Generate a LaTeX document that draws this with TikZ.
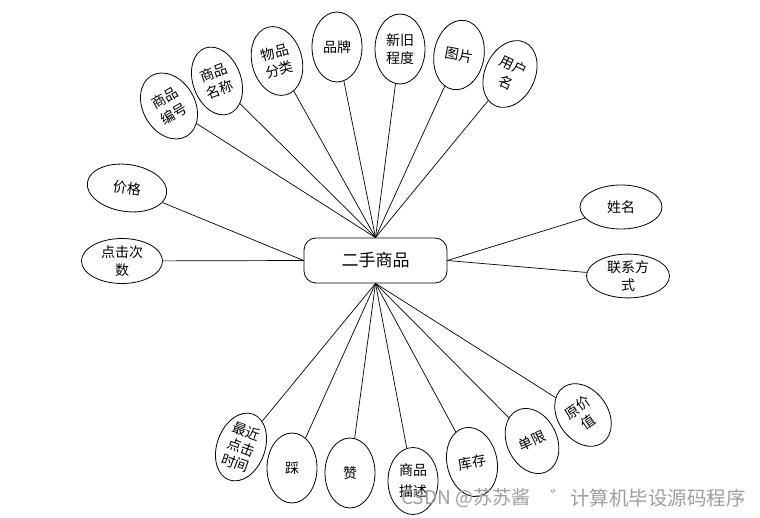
\documentclass[tikz,border=0pt]{standalone}
\usepackage{fontspec}
\newfontfamily\cjk{Noto Sans CJK SC}
\usetikzlibrary{shapes.geometric}
\begin{document}
\begin{tikzpicture}[x=1pt,y=-1pt,
  attr/.style={ellipse,draw,line width=0.8pt,inner sep=0pt,minimum width=50pt,minimum height=70pt,
    align=center,font=\cjk\fontsize{14}{18}\selectfont},
  hattr/.style={ellipse,draw,line width=0.8pt,inner sep=0pt,minimum width=81pt,minimum height=44pt,
    align=center,font=\cjk\fontsize{14}{18}\selectfont},
  centerbox/.style={rectangle,rounded corners=12pt,draw,line width=0.8pt,minimum width=143pt,minimum height=45pt,
    font=\cjk\fontsize{17}{20}\selectfont},
  link/.style={line width=0.7pt},
  wmark/.style={text=black!38,inner sep=0pt}
]
\useasboundingbox[fill=white] (0,0) rectangle (760,518);

\node[centerbox] (c) at (375.5,260.5) {二手商品};

% top
\node[attr,rotate=30,minimum width=52pt] (a1) at (169,106) {商品\\编号};
\node[attr,rotate=20,minimum width=48pt] (a2) at (217,81) {商品\\名称};
\node[attr,rotate=15] (a3) at (277,61) {物品\\分类};
\node[attr] (a4) at (337,47) {品牌};
\node[attr] (a5) at (400,49) {新旧\\程度};
\node[attr,rotate=-10] (a6) at (459,55) {图片};
\node[attr,rotate=-25] (a7) at (510,74) {用户\\名};

% left
\node[hattr,rotate=-8,minimum width=80pt,minimum height=47pt] (l1) at (127,188) {价格};
\node[hattr,minimum height=45pt] (l2) at (122,261) {点击次\\数};

% right
\node[hattr,minimum width=82pt] (r1) at (621,207) {姓名};
\node[hattr,minimum width=83pt,minimum height=42pt] (r2) at (628,276) {联系方\\式};

% bottom
\node[attr,rotate=-20,minimum width=48pt,font=\cjk\fontsize{14}{17}\selectfont] (b1) at (241,447) {最近\\点击\\时间};
\node[attr] (b2) at (292,468) {踩};
\node[attr] (b3) at (350,473) {赞};
\node[attr,minimum height=67pt,font=\cjk\fontsize{14}{21}\selectfont] (b4) at (413,481) {商品\\描述};
\node[attr,rotate=12] (b5) at (472,462) {库存};
\node[attr,rotate=25,minimum height=68pt] (b6) at (532,441) {单限};
\node[attr,rotate=35,minimum width=50pt,minimum height=68pt] (b7) at (583,415) {原价\\值};

% connectors
\foreach \n in {a1,a2,a3,a4,a5,a6,a7} \draw[link] (c.north) -- (\n);
\foreach \n in {b1,b2,b3,b4,b5,b6,b7} \draw[link] (c.south) -- (\n);
\foreach \n in {l1,l2} \draw[link] (c.west) -- (\n);
\foreach \n in {r1,r2} \draw[link] (c.east) -- (\n);

% watermark
\node[wmark,anchor=west,font=\cjk\fontsize{19}{21}\selectfont] (w1) at (401,498) {CSDN @苏苏酱};
\node[wmark,anchor=east,font=\cjk\fontsize{19.5}{21}\selectfont] (w2) at (746,498) {゛计算机毕设源码程序};
\end{tikzpicture}
\end{document}
